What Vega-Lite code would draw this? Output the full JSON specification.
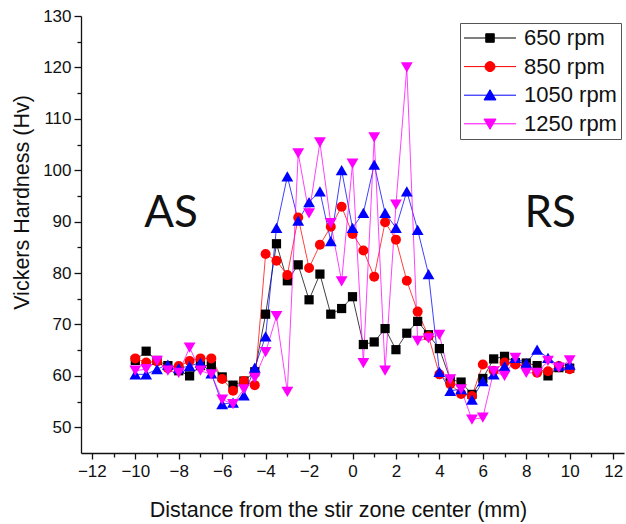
{
  "$schema": "https://vega.github.io/schema/vega-lite/v6.json",
  "autosize": {"type": "none"},
  "width": 543,
  "height": 437,
  "padding": {"left": 81, "top": 16, "right": 2, "bottom": 71},
  "background": "white",
  "config": {"view": {"stroke": null}},
  "layer": [
    {
      "data": {"name": "hv", "values": [
        {"x": -10, "650 rpm": 63.0, "850 rpm": 63.4, "1050 rpm": 60.3, "1250 rpm": 61.0},
        {"x": -9.5, "650 rpm": 64.8, "850 rpm": 62.6, "1050 rpm": 60.3, "1250 rpm": 61.3},
        {"x": -9, "650 rpm": 63.0, "850 rpm": 62.8, "1050 rpm": 61.3, "1250 rpm": 62.9},
        {"x": -8.5, "650 rpm": 62.0, "850 rpm": 61.5, "1050 rpm": 62.2, "1250 rpm": 61.0},
        {"x": -8, "650 rpm": 61.0, "850 rpm": 61.9, "1050 rpm": 61.5, "1250 rpm": 60.6},
        {"x": -7.5, "650 rpm": 60.0, "850 rpm": 62.9, "1050 rpm": 61.9, "1250 rpm": 65.5},
        {"x": -7, "650 rpm": 62.0, "850 rpm": 63.4, "1050 rpm": 62.6, "1250 rpm": 61.0},
        {"x": -6.5, "650 rpm": 62.0, "850 rpm": 63.4, "1050 rpm": 60.5, "1250 rpm": 60.3},
        {"x": -6, "650 rpm": 59.8, "850 rpm": 59.4, "1050 rpm": 54.5, "1250 rpm": 55.4},
        {"x": -5.5, "650 rpm": 58.2, "850 rpm": 57.1, "1050 rpm": 54.8, "1250 rpm": 54.5},
        {"x": -5, "650 rpm": 59.0, "850 rpm": 59.0, "1050 rpm": 56.2, "1250 rpm": 57.4},
        {"x": -4.5, "650 rpm": 60.8, "850 rpm": 58.2, "1050 rpm": 61.6, "1250 rpm": 59.6},
        {"x": -4, "650 rpm": 72.0, "850 rpm": 83.7, "1050 rpm": 67.7, "1250 rpm": 64.6},
        {"x": -3.5, "650 rpm": 85.7, "850 rpm": 82.4, "1050 rpm": 88.8, "1250 rpm": 71.6},
        {"x": -3, "650 rpm": 78.5, "850 rpm": 79.6, "1050 rpm": 98.8, "1250 rpm": 56.9},
        {"x": -2.5, "650 rpm": 81.6, "850 rpm": 90.8, "1050 rpm": 90.2, "1250 rpm": 103.3},
        {"x": -2, "650 rpm": 74.8, "850 rpm": 81.0, "1050 rpm": 93.8, "1250 rpm": 91.6},
        {"x": -1.5, "650 rpm": 79.8, "850 rpm": 85.5, "1050 rpm": 95.9, "1250 rpm": 105.4},
        {"x": -1, "650 rpm": 72.0, "850 rpm": 89.0, "1050 rpm": 86.2, "1250 rpm": 89.7},
        {"x": -0.5, "650 rpm": 73.1, "850 rpm": 92.9, "1050 rpm": 100.0, "1250 rpm": 78.4},
        {"x": 0, "650 rpm": 75.4, "850 rpm": 87.6, "1050 rpm": 88.8, "1250 rpm": 101.3},
        {"x": 0.5, "650 rpm": 66.1, "850 rpm": 84.4, "1050 rpm": 91.7, "1250 rpm": 62.5},
        {"x": 1, "650 rpm": 66.6, "850 rpm": 79.3, "1050 rpm": 101.1, "1250 rpm": 106.4},
        {"x": 1.5, "650 rpm": 69.2, "850 rpm": 89.9, "1050 rpm": 91.7, "1250 rpm": 61.0},
        {"x": 2, "650 rpm": 65.1, "850 rpm": 86.5, "1050 rpm": 88.8, "1250 rpm": 93.3},
        {"x": 2.5, "650 rpm": 68.3, "850 rpm": 78.5, "1050 rpm": 95.9, "1250 rpm": 120.0},
        {"x": 3, "650 rpm": 70.6, "850 rpm": 72.5, "1050 rpm": 88.4, "1250 rpm": 66.8},
        {"x": 3.5, "650 rpm": 68.0, "850 rpm": 67.7, "1050 rpm": 79.8, "1250 rpm": 67.3},
        {"x": 4, "650 rpm": 65.3, "850 rpm": 60.3, "1050 rpm": 60.8, "1250 rpm": 68.0},
        {"x": 4.5, "650 rpm": 59.3, "850 rpm": 58.4, "1050 rpm": 57.1, "1250 rpm": 59.3},
        {"x": 5, "650 rpm": 58.8, "850 rpm": 56.5, "1050 rpm": 57.4, "1250 rpm": 57.4},
        {"x": 5.5, "650 rpm": 56.4, "850 rpm": 56.1, "1050 rpm": 55.4, "1250 rpm": 51.5},
        {"x": 6, "650 rpm": 59.5, "850 rpm": 62.2, "1050 rpm": 59.0, "1250 rpm": 51.9},
        {"x": 6.5, "650 rpm": 63.3, "850 rpm": 61.0, "1050 rpm": 60.3, "1250 rpm": 60.9},
        {"x": 7, "650 rpm": 63.8, "850 rpm": 62.6, "1050 rpm": 61.9, "1250 rpm": 60.0},
        {"x": 7.5, "650 rpm": 62.6, "850 rpm": 62.2, "1050 rpm": 63.5, "1250 rpm": 63.5},
        {"x": 8, "650 rpm": 62.5, "850 rpm": 61.8, "1050 rpm": 62.5, "1250 rpm": 60.6},
        {"x": 8.5, "650 rpm": 62.0, "850 rpm": 60.6, "1050 rpm": 65.1, "1250 rpm": 60.6},
        {"x": 9, "650 rpm": 60.0, "850 rpm": 60.9, "1050 rpm": 63.5, "1250 rpm": 62.9},
        {"x": 9.5, "650 rpm": 61.6, "850 rpm": 61.9, "1050 rpm": 62.0, "1250 rpm": 61.6},
        {"x": 10, "650 rpm": 61.5, "850 rpm": 61.3, "1050 rpm": 62.2, "1250 rpm": 63.0}
      ]},
      "transform": [{"fold": ["650 rpm", "850 rpm", "1050 rpm", "1250 rpm"], "as": ["speed", "hv"]}],
      "encoding": {
        "x": {"field": "x", "type": "quantitative"},
        "y": {"field": "hv", "type": "quantitative"},
        "color": {"field": "speed", "type": "nominal",
          "scale": {"domain": ["650 rpm", "850 rpm", "1050 rpm", "1250 rpm"], "range": ["#000000", "#ff0000", "#0000ff", "#ff00ff"]},
          "legend": {
            "orient": "none", "legendX": 379, "legendY": 7, "title": null, "direction": "vertical",
            "labelFont": "Liberation Sans", "labelFontSize": 22, "labelColor": "#111111",
            "symbolSize": 100, "symbolOffset": 15, "labelOffset": 23,
            "symbolType": {"expr": "datum.value === '650 rpm' ? 'M-5.2,0H5.2M-0.85,-0.85H0.85V0.85H-0.85Z' : datum.value === '850 rpm' ? 'M-5.2,0H5.2M1,0A1,1,0,1,1,-1,0A1,1,0,1,1,1,0Z' : datum.value === '1050 rpm' ? 'M-5.2,0H5.2M0,-1.1L1.2,0.95H-1.2Z' : 'M-5.2,0H5.2M0,1.1L1.2,-0.95H-1.2Z'"},
            "symbolFillColor": {"expr": "scale('color', datum.value)"},
            "symbolStrokeColor": {"expr": "scale('color', datum.value)"},
            "symbolStrokeWidth": 1,
            "symbolOpacity": 1,
            "padding": 4, "rowPadding": 6.6,
            "strokeColor": "#555555", "fillColor": "white"
          }}
      },
      "layer": [
        {"mark": {"type": "line", "strokeWidth": 1, "opacity": 0.75}},
        {"transform": [{"filter": "datum.speed === '650 rpm'"}],
         "mark": {"type": "point", "shape": "square", "size": 85, "filled": true, "opacity": 1, "strokeWidth": 0}},
        {"transform": [{"filter": "datum.speed === '850 rpm'"}],
         "mark": {"type": "point", "shape": "circle", "size": 100, "filled": true, "opacity": 1, "strokeWidth": 0}},
        {"transform": [{"filter": "datum.speed === '1050 rpm'"}],
         "mark": {"type": "point", "shape": "triangle-up", "size": 140, "filled": true, "opacity": 1, "strokeWidth": 0}},
        {"transform": [{"filter": "datum.speed === '1250 rpm'"}],
         "mark": {"type": "point", "shape": "triangle-down", "size": 140, "filled": true, "opacity": 1, "strokeWidth": 0}}
      ]
    },
    {
      "data": {"values": [
        {"x": -8.35, "y": 89, "t": "AS"},
        {"x": 9.1, "y": 89, "t": "RS"}
      ]},
      "mark": {"type": "text", "font": "Lato", "fontSize": 44, "align": "center", "baseline": "alphabetic", "color": "#111111"},
      "encoding": {
        "x": {"field": "x", "type": "quantitative"},
        "y": {"field": "y", "type": "quantitative"},
        "text": {"field": "t"}
      }
    }
  ],
  "encoding": {
    "x": {"type": "quantitative",
      "scale": {"domain": [-12.5, 12.5], "nice": false, "zero": false},
      "axis": {
        "title": "Distance from the stir zone center (mm)",
        "values": [-12, -11, -10, -9, -8, -7, -6, -5, -4, -3, -2, -1, 0, 1, 2, 3, 4, 5, 6, 7, 8, 9, 10, 11, 12],
        "labelExpr": "datum.value % 2 === 0 ? datum.label : ''",
        "tickSize": {"condition": {"test": "datum.value % 2 === 0", "value": 6}, "value": 4},
        "grid": false, "domainColor": "#111111", "domainWidth": 1.3, "tickColor": "#111111", "tickWidth": 1.3,
        "labelFont": "Liberation Sans", "labelFontSize": 17, "labelColor": "#111111", "labelPadding": 4, "labelBaseline": "top", "labelFlush": false,
        "titleFont": "Liberation Sans", "titleFontSize": 21.5, "titleFontWeight": "normal", "titleColor": "#111111",
        "titleX": 257, "titleY": 63, "titleBaseline": "alphabetic", "titleAlign": "center"
      }
    },
    "y": {"type": "quantitative",
      "scale": {"domain": [45, 130], "nice": false, "zero": false},
      "axis": {
        "title": "Vickers Hardness (Hv)",
        "values": [50, 55, 60, 65, 70, 75, 80, 85, 90, 95, 100, 105, 110, 115, 120, 125, 130],
        "labelExpr": "datum.value % 10 === 0 ? datum.label : ''",
        "tickSize": {"condition": {"test": "datum.value % 10 === 0", "value": 7}, "value": 4},
        "grid": false, "domainColor": "#111111", "domainWidth": 1.3, "tickColor": "#111111", "tickWidth": 1.3,
        "labelFont": "Liberation Sans", "labelFontSize": 17, "labelColor": "#111111", "labelPadding": 3, "labelFlush": false,
        "titleFont": "Liberation Sans", "titleFontSize": 21.5, "titleFontWeight": "normal", "titleColor": "#111111",
        "titleX": -53, "titleY": 186, "titleBaseline": "alphabetic", "titleAlign": "center", "titleAngle": -90
      }
    }
  }
}
